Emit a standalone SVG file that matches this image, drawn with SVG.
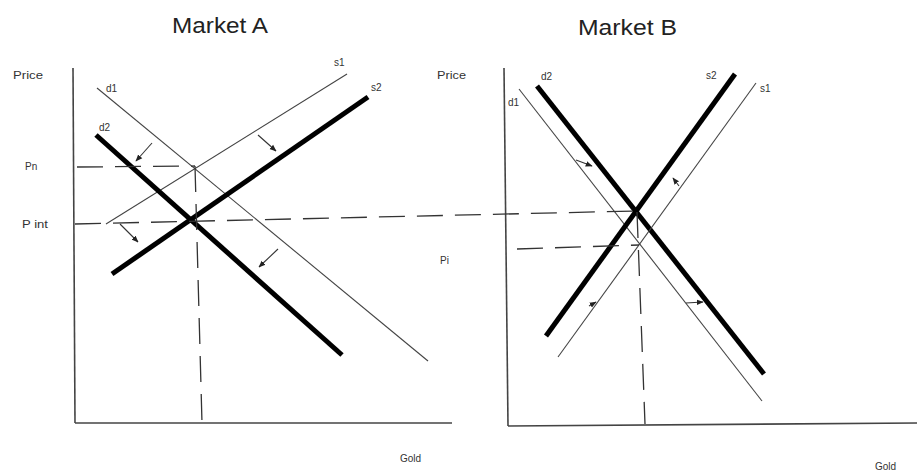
<svg xmlns="http://www.w3.org/2000/svg" width="917" height="472" viewBox="0 0 917 472">
<defs>
<style>
text{font-family:"Liberation Sans",Arial,sans-serif;fill:#333}
.title{font-size:22px;fill:#222}
.lbl{font-size:10px}
.ax{stroke:#444;stroke-width:1.6;fill:none}
.thin{stroke:#444;stroke-width:1.1;fill:none}
.thick{stroke:#000;stroke-width:5;fill:none}
.dash{stroke:#333;stroke-width:1.3;fill:none;stroke-dasharray:26,12}
.arr{stroke:#333;stroke-width:1.1;fill:none;marker-end:url(#ah)}
</style>
<marker id="ah" viewBox="0 0 10 10" refX="9" refY="5" markerWidth="7" markerHeight="7" orient="auto" markerUnits="userSpaceOnUse">
<path d="M0,1 L10,5 L0,9 Z" fill="#222"/>
</marker>
</defs>
<rect width="917" height="472" fill="#fff"/>
<g id="titles">
<text class="title" x="172" y="33" textLength="96" lengthAdjust="spacingAndGlyphs">Market A</text>
<text class="title" x="578" y="35" textLength="99" lengthAdjust="spacingAndGlyphs">Market B</text>
</g>
<g id="marketA">
<g id="axesA">
<line class="ax" x1="73" y1="68" x2="75" y2="423"/>
<line class="ax" x1="75" y1="423" x2="452" y2="423"/>
<text class="lbl" x="13" y="79" textLength="30" lengthAdjust="spacingAndGlyphs">Price</text>
<text class="lbl" x="25" y="170">Pn</text>
<text class="lbl" x="22" y="228" textLength="26" lengthAdjust="spacingAndGlyphs">P int</text>
<text class="lbl" x="400" y="462">Gold</text>
</g>
<g id="d1A"><line class="thin" x1="97" y1="88" x2="428" y2="361"/><text class="lbl" x="106" y="92">d1</text></g>
<g id="s1A"><line class="thin" x1="106" y1="224" x2="347" y2="74"/><text class="lbl" x="334" y="66">s1</text></g>
<g id="s2A"><line class="thick" x1="112" y1="274" x2="368" y2="97"/><text class="lbl" x="371" y="91">s2</text></g>
<g id="d2A"><line class="thick" x1="96" y1="135" x2="342" y2="355"/><text class="lbl" x="99" y="131">d2</text></g>
</g>
<g id="marketB">
<g id="axesB">
<line class="ax" x1="504" y1="68" x2="508" y2="426"/>
<line class="ax" x1="508" y1="426" x2="917" y2="423"/>
<text class="lbl" x="437" y="79" textLength="29" lengthAdjust="spacingAndGlyphs">Price</text>
<text class="lbl" x="440" y="264">Pi</text>
<text class="lbl" x="875" y="470">Gold</text>
</g>
<g id="d1B"><line class="thin" x1="519" y1="89" x2="762" y2="401"/><text class="lbl" x="508" y="106">d1</text></g>
<g id="d2B"><line class="thick" x1="537" y1="86" x2="764" y2="374"/><text class="lbl" x="541" y="80">d2</text></g>
<g id="s2B"><line class="thick" x1="735" y1="74" x2="546" y2="336"/><text class="lbl" x="706" y="79">s2</text></g>
<g id="s1B"><line class="thin" x1="756" y1="83" x2="558" y2="357"/><text class="lbl" x="760" y="92">s1</text></g>
</g>
<g id="connectors">
<path class="dash" d="M77,167 L195,166"/>
<path class="dash" d="M195,166 L202,423"/>
<path class="dash" d="M75,224 L637,211"/>
<path class="dash" d="M517,249 L639,245"/>
<path class="dash" d="M637,212 L645,424"/>
<path class="arr" d="M152,143 L136,161"/>
<path class="arr" d="M258,135 L276,151"/>
<path class="arr" d="M120,224 L138,242"/>
<path class="arr" d="M278,249 L259,267"/>
<path class="arr" d="M576,160 L592,166"/>
<path class="arr" d="M679,186 L673,178"/>
<path class="arr" d="M589,306 L596,302"/>
<path class="arr" d="M686,303 L703,302"/>
</g>
</svg>
